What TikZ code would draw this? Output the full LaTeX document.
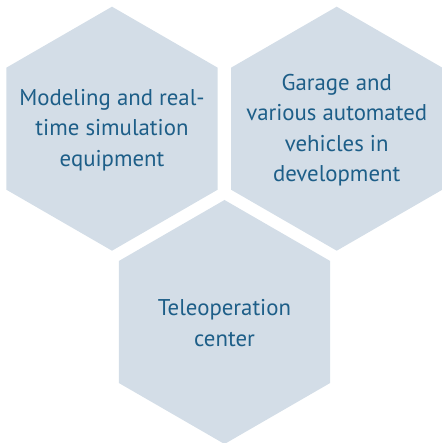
\documentclass[tikz,border=0pt]{standalone}
\usepackage{fontspec}
\setmainfont{PT Sans}
\usetikzlibrary{shapes.geometric}
\definecolor{hexfill}{HTML}{D3DDE7}
\definecolor{hextext}{HTML}{1D5E88}
\tikzset{
  hex/.style={regular polygon, regular polygon sides=6, shape border rotate=30,
    minimum size=244pt, inner sep=0pt, outer sep=0pt, fill=hexfill, draw=none},
  hextxt/.style={text=hextext, align=center, inner sep=0pt,
    font=\fontsize{22.8}{30.5}\selectfont}
}
\begin{document}
\begin{tikzpicture}[x=1pt,y=1pt]
\useasboundingbox (0,0) rectangle (441,443);
\node[hex] (h1) at (112,314.3) {};
\node[hex] (h2) at (336.7,314.3) {};
\node[hex] (h3) at (224.5,121) {};
\node[hextxt] (t1) at (112,313) {Modeling and real-\\time simulation\\equipment};
\node[hextxt] (t2) at (336.7,313) {Garage and\\various automated\\vehicles in\\development};
\node[hextxt] (t3) at (224.5,120) {Teleoperation\\center};
\end{tikzpicture}
\end{document}
